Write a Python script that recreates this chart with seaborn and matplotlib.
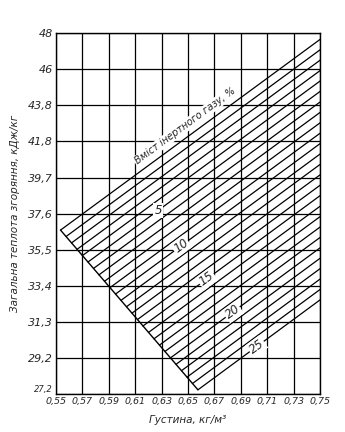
import numpy as np
import pandas as pd
import matplotlib
matplotlib.use("Agg")
import matplotlib.pyplot as plt
import seaborn as sns

# ---- data ----
inert_pct = list(range(26))  # inert gas content, %
x_start = [0.5535, 0.5577, 0.5618, 0.5660, 0.5701, 0.5743, 0.5785, 0.5826, 0.5868,
           0.5909, 0.5951, 0.5993, 0.6034, 0.6076, 0.6117, 0.6159, 0.6201, 0.6242,
           0.6284, 0.6325, 0.6367, 0.6409, 0.6450, 0.6492, 0.6533, 0.6575]
y_start = [36.65, 36.28, 35.91, 35.54, 35.18, 34.81, 34.44, 34.07, 33.70, 33.33,
           32.96, 32.60, 32.23, 31.86, 31.49, 31.12, 30.75, 30.38, 30.02, 29.65,
           29.28, 28.91, 28.54, 28.17, 27.80, 27.44]
x_end = [0.75] * 26
y_end = [47.65, 47.05, 46.45, 45.85, 45.25, 44.65, 44.04, 43.44, 42.84, 42.24,
         41.64, 41.04, 40.44, 39.84, 39.24, 38.64, 38.03, 37.43, 36.83, 36.23,
         35.63, 35.03, 34.43, 33.83, 33.23, 32.63]

label_pct = [5, 10, 15, 20, 25]
label_x = [0.6275, 0.6447, 0.6642, 0.6838, 0.7020]

x_ticks = [0.55, 0.57, 0.59, 0.61, 0.63, 0.65, 0.67, 0.69, 0.71, 0.73, 0.75]
x_ticklabels = ["0,55", "0,57", "0,59", "0,61", "0,63", "0,65", "0,67", "0,69",
                "0,71", "0,73", "0,75"]
y_ticklabels = ["27,2", "29,2", "31,3", "33,4", "35,5", "37,6", "39,7", "41,8",
                "43,8", "46", "48"]
y_min, y_max = 27.2, 48.0

# ---- build long-form table ----
rows = []
for p, xs, ys, xe, ye in zip(inert_pct, x_start, y_start, x_end, y_end):
    rows.append({"pct": p, "x": xs, "y": ys})
    rows.append({"pct": p, "x": xe, "y": ye})
df = pd.DataFrame(rows)
edge = pd.DataFrame({"x": [x_start[0], x_start[-1]], "y": [y_start[0], y_start[-1]]})

sns.set_theme(style="white")
plt.rcParams["font.family"] = ["DejaVu Sans"]

fig = plt.figure(figsize=(3.45, 4.32), dpi=100)
ax = fig.add_axes([0.162, 0.088, 0.766, 0.835])

sns.lineplot(data=df, x="x", y="y", units="pct", estimator=None, color="black",
             linewidth=0.9, ax=ax, legend=False)
sns.lineplot(data=edge, x="x", y="y", color="black", linewidth=1.0, ax=ax,
             legend=False)

ax.set_xlim(0.55, 0.75)
ax.set_ylim(y_min, y_max)
y_ticks = np.linspace(y_min, y_max, len(y_ticklabels))
ax.set_xticks(x_ticks)
ax.set_xticklabels(x_ticklabels, fontsize=6.8, style="italic")
ax.set_yticks(y_ticks)
ax.set_yticklabels(y_ticklabels, fontsize=8, style="italic")
ax.tick_params(length=0, pad=2)
ax.grid(True, color="black", linewidth=0.9)
for s in ax.spines.values():
    s.set_color("black")
    s.set_linewidth(1.0)

# the lowest y label sits above the first x label, smaller
ylab0 = ax.get_yticklabels()[0]
ylab0.set_fontsize(6)
ylab0.set_verticalalignment("bottom")

# angle of the lines on screen
fig.canvas.draw()
p1 = ax.transData.transform((x_start[0], y_start[0]))
p2 = ax.transData.transform((x_end[0], y_end[0]))
ang = np.degrees(np.arctan2(p2[1] - p1[1], p2[0] - p1[0]))

for p, lx in zip(label_pct, label_x):
    i = inert_pct.index(p)
    slope = (y_end[i] - y_start[i]) / (x_end[i] - x_start[i])
    ly = y_start[i] + slope * (lx - x_start[i])
    ax.text(lx, ly, str(p), rotation=ang if p != 5 else 0, ha="center", va="center",
            fontsize=8.5, style="italic", rotation_mode="anchor",
            bbox=dict(boxstyle="square,pad=0.1", fc="white", ec="none"))

tx = 0.652
slope0 = (y_end[0] - y_start[0]) / (x_end[0] - x_start[0])
ty = y_start[0] + slope0 * (tx - x_start[0])
ax.annotate("Вміст інертного газу, %", xy=(tx, ty), xytext=(-2, 3),
            textcoords="offset points", rotation=ang, ha="center", va="bottom",
            rotation_mode="anchor", fontsize=7, style="italic",
            bbox=dict(boxstyle="square,pad=0.1", fc="white", ec="none"))

ax.set_xlabel("Густина, кг/м³", fontsize=7.5, style="italic", labelpad=7)
ax.set_ylabel("Загальна теплота згоряння, кДж/кг", fontsize=7.5, style="italic",
              labelpad=6)

fig.savefig("out.png", dpi=100, facecolor="white")
